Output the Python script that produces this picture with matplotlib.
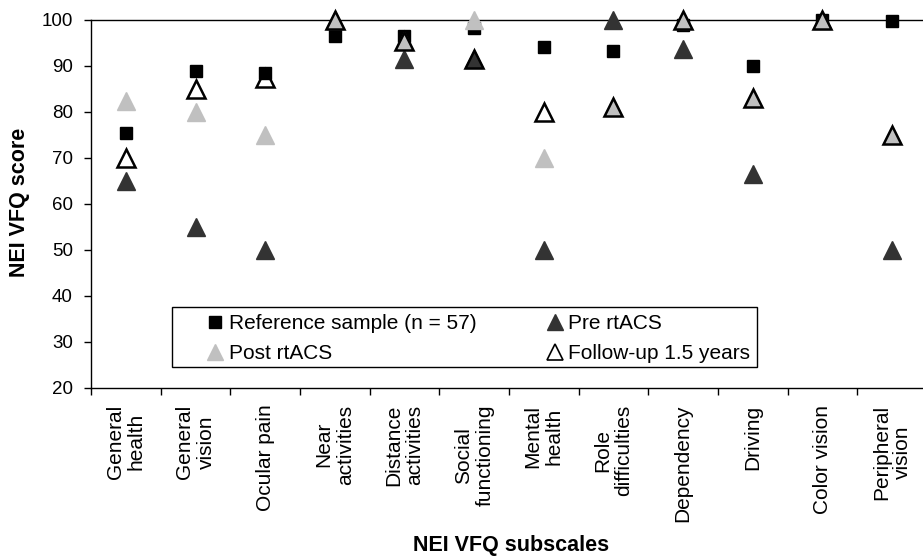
import matplotlib
matplotlib.use("Agg")
import matplotlib.pyplot as plt
from matplotlib.lines import Line2D
from matplotlib.patches import Rectangle
import numpy as np

plt.rcParams['font.family'] = ['Liberation Sans', 'DejaVu Sans']

categories = ["General\nhealth", "General\nvision", "Ocular pain", "Near\nactivities",
              "Distance\nactivities", "Social\nfunctioning", "Mental\nhealth", "Role\ndifficulties",
              "Dependency", "Driving", "Color vision", "Peripheral\nvision"]
reference = [75.5, 89, 88.5, 96.5, 96.5, 98.3, 94.1, 93.2, 99, 90, 100, 99.8]
pre = [65, 55, 50, 100, 91.5, 91.5, 50, 100, 93.6, 66.5, 100, 50]
post = [82.3, 80, 75, 100, 95.5, 100, 70, 81, 100, 83, 100, 75]
followup = [70, 85, 87.3, 100, 95.5, 91.5, 80, 81, 100, 83, 100, 75]

W, H = 923, 557
fig = plt.figure(figsize=(W / 100, H / 100), dpi=100)
ax = fig.add_axes([91 / W, (H - 388) / H, 836 / W, 368 / H])

x = np.arange(len(categories)) + 0.5
ax.plot(x, reference, 's', color='black', ms=9, ls='none', clip_on=False, zorder=3)
ax.plot(x, pre, '^', color='#333333', ms=13, ls='none', clip_on=False, zorder=4)
ax.plot(x, post, '^', color='#c0c0c0', ms=13, ls='none', clip_on=False, zorder=5)
ax.plot(x, followup, '^', mfc='none', mec='black', mew=1.8, ms=13.5, ls='none', clip_on=False, zorder=6)

ax.set_xlim(0, len(categories))
ax.set_ylim(20, 100)
ax.set_yticks(np.arange(20, 101, 10))
ax.set_xticks(np.arange(0, len(categories) + 1))
ax.set_xticklabels([])
ax.set_xticks(x, minor=True)
ax.set_xticklabels(categories, minor=True, rotation=90, ha='center', va='top',
                   fontsize=15, linespacing=1.15)
ax.tick_params(axis='x', which='minor', length=0, pad=12)
ax.tick_params(axis='x', which='major', length=5, width=1, direction='out')
ax.tick_params(axis='y', length=5, width=1, direction='out', labelsize=13.5, pad=8)
ax.spines['right'].set_visible(False)
for s in ['left', 'bottom', 'top']:
    ax.spines[s].set_linewidth(1.0)

fig.text(20 / W, 1 - 202 / H, 'NEI VFQ score', fontsize=15.5, fontweight='bold',
         rotation=90, ha='center', va='center')
fig.text(511 / W, 1 - 545 / H, 'NEI VFQ subscales', fontsize=15.5, fontweight='bold',
         ha='center', va='center')

handles = [
    Line2D([], [], marker='s', color='black', ls='none', ms=9),
    Line2D([], [], marker='^', color='#c0c0c0', ls='none', ms=11),
    Line2D([], [], marker='^', color='#333333', ls='none', ms=11),
    Line2D([], [], marker='^', mfc='none', mec='black', mew=1.2, ls='none', ms=11),
]
labels = ['Reference sample (n = 57)', 'Post rtACS', 'Pre rtACS', 'Follow-up 1.5 years']
leg = fig.legend(handles, labels, ncol=2, loc='upper left',
                 bbox_to_anchor=(206 / W, 1 - 314 / H),
                 fontsize=15, frameon=False, handlelength=0.9, handletextpad=0.2,
                 borderpad=0, borderaxespad=0, labelspacing=0.55, columnspacing=3.3)
fig.patches.append(Rectangle((172 / W, 1 - 367 / H), (757 - 172) / W, 60 / H,
                             transform=fig.transFigure, fill=True, facecolor='white',
                             edgecolor='black', linewidth=1.0, zorder=1))
leg.set_zorder(10)

fig.savefig('out.png', dpi=100)
